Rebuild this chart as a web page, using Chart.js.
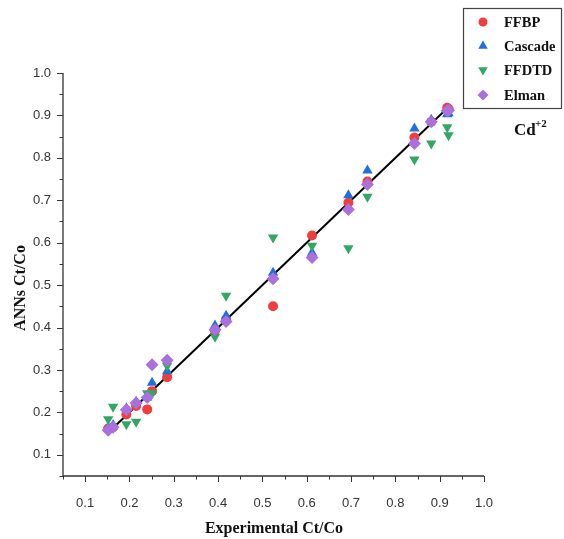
<!DOCTYPE html>
<html>
<head>
<meta charset="utf-8">
<script src="https://cdn.jsdelivr.net/npm/chart.js@4"></script>
<style>
  html, body { margin: 0; padding: 0; background: #fff; }
  #wrap { width: 564px; height: 539px; position: relative; }
</style>
</head>
<body>
<div id="wrap"><canvas id="cd"></canvas></div>
<script>
// experimental Ct/Co (x) shared by the four networks
var expX = [0.152, 0.163, 0.193, 0.215, 0.240, 0.251, 0.285, 0.393, 0.418, 0.524, 0.612, 0.694, 0.737, 0.843, 0.881, 0.917, 0.920];
// predicted Ct/Co
var ffbpY    = [0.162, 0.165, 0.195, 0.215, 0.207, 0.250, 0.283, 0.393, 0.418, 0.450, 0.617, 0.694, 0.744, 0.848, 0.885, 0.918, 0.915];
var cascadeY = [0.163, 0.170, 0.210, 0.225, 0.235, 0.270, 0.297, 0.405, 0.428, 0.529, 0.576, 0.712, 0.770, 0.869, 0.890, 0.903, 0.905];
var ffdtdY   = [0.184, 0.213, 0.172, 0.178, 0.245, 0.245, 0.310, 0.378, 0.475, 0.612, 0.593, 0.587, 0.708, 0.796, 0.834, 0.872, 0.853];
var elmanY   = [0.158, 0.165, 0.206, 0.222, 0.235, 0.312, 0.323, 0.395, 0.414, 0.515, 0.565, 0.678, 0.737, 0.834, 0.885, 0.911, 0.912];
// 1:1 reference line
var fitX = [0.150, 0.920];
var fitY = [0.150, 0.920];
// axis ticks
var xTicks = [0.1, 0.2, 0.3, 0.4, 0.5, 0.6, 0.7, 0.8, 0.9, 1.0];
var yTicks = [0.1, 0.2, 0.3, 0.4, 0.5, 0.6, 0.7, 0.8, 0.9, 1.0];
var seriesNames = ["FFBP", "Cascade", "FFDTD", "Elman"];

function pts(xs, ys){
    var out = [];
    for(let i = 0; i < xs.length; i++){
        out.push({x: xs[i], y: ys[i]});
    }
    return out;
}

var serif = "'Liberation Serif', 'Times New Roman', serif";
var sans = "'Liberation Sans', Arial, sans-serif";

// axis lines, major/minor ticks, titles, legend box and Cd label
var decorPlugin = {
    id: "decor",
    afterDraw: function(chart){
        var ctx = chart.ctx;
        var xs = chart.scales.x, ys = chart.scales.y;
        var area = chart.chartArea;
        ctx.save();
        ctx.strokeStyle = "#333";
        ctx.lineWidth = 1.3;
        ctx.beginPath();
        ctx.moveTo(area.left, area.top);
        ctx.lineTo(area.left, area.bottom);
        ctx.lineTo(area.right, area.bottom);
        ctx.stroke();
        ctx.lineWidth = 1;
        for(let v = 0.05; v <= 1.0001; v += 0.05){
            var major = Math.abs(v * 10 - Math.round(v * 10)) < 0.01;
            var len = major ? 6 : 3.5;
            var px = Math.round(xs.getPixelForValue(v)) + 0.5;
            var py = Math.round(ys.getPixelForValue(v)) + 0.5;
            ctx.beginPath();
            ctx.moveTo(px, area.bottom);
            ctx.lineTo(px, area.bottom + len);
            ctx.moveTo(area.left, py);
            ctx.lineTo(area.left - len, py);
            ctx.stroke();
        }
        // axis titles
        ctx.fillStyle = "#111";
        ctx.font = "bold 16px " + serif;
        ctx.textAlign = "center";
        ctx.textBaseline = "middle";
        ctx.fillText("Experimental Ct/Co", 274, 529);
        ctx.save();
        ctx.translate(21, 288);
        ctx.rotate(-Math.PI / 2);
        ctx.fillText("ANNs Ct/Co", 0, 0);
        ctx.restore();
        // legend
        ctx.strokeStyle = "#444";
        ctx.lineWidth = 1.2;
        ctx.strokeRect(463.5, 8.5, 98, 100);
        ctx.font = "bold 14.5px " + serif;
        ctx.textAlign = "left";
        var rowY = [22, 46, 70, 95];
        var legendR = [4.5, 5.5, 5.5, 5.5];
        for(let i = 0; i < seriesNames.length; i++){
            var ds = chart.data.datasets[i];
            ctx.fillStyle = ds.backgroundColor;
            Chart.helpers.drawPoint(ctx, {
                pointStyle: ds.pointStyle,
                radius: legendR[i],
                rotation: ds.rotation || 0,
                borderWidth: 0
            }, 483, rowY[i]);
            ctx.fillStyle = "#111";
            ctx.fillText(seriesNames[i], 504, rowY[i] + 1);
        }
        // Cd+2 label
        ctx.font = "bold 17px " + serif;
        ctx.fillText("Cd", 514, 131);
        ctx.font = "bold 11px " + serif;
        ctx.fillText("+2", 535, 124);
        ctx.restore();
    }
};

new Chart("cd", {
    type: "scatter",
    data: {
        datasets: [{
            label: "FFBP",
            data: pts(expX, ffbpY),
            pointStyle: "circle",
            pointRadius: 5,
            backgroundColor: "rgb(240,62,62)",
            borderWidth: 0,
            order: 4
        }, {
            label: "Cascade",
            data: pts(expX, cascadeY),
            pointStyle: "triangle",
            pointRadius: 6,
            backgroundColor: "rgb(30,112,222)",
            borderWidth: 0,
            order: 3
        }, {
            label: "FFDTD",
            data: pts(expX, ffdtdY),
            pointStyle: "triangle",
            rotation: 180,
            pointRadius: 6,
            backgroundColor: "rgb(48,168,100)",
            borderWidth: 0,
            order: 2
        }, {
            label: "Elman",
            data: pts(expX, elmanY),
            pointStyle: "rectRot",
            pointRadius: 6.5,
            backgroundColor: "rgb(170,112,222)",
            borderWidth: 0,
            order: 1
        }, {
            type: "line",
            label: "fit",
            data: pts(fitX, fitY),
            borderColor: "#000",
            borderWidth: 2,
            pointRadius: 0,
            showLine: true,
            fill: false,
            order: 10
        }]
    },
    options: {
        responsive: true,
        maintainAspectRatio: false,
        animation: false,
        layout: {padding: {left: 0, top: 73, right: 80, bottom: 0}},
        plugins: {
            legend: {display: false},
            tooltip: {enabled: false}
        },
        scales: {
            x: {
                type: "linear",
                min: 0.05,
                max: 1.0,
                grid: {display: false},
                border: {display: false},
                afterBuildTicks: function(scale){
                    scale.ticks = xTicks.map(v => ({value: v}));
                },
                afterFit: function(scale){ scale.height = 63; },
                ticks: {
                    padding: 12,
                    color: "#333",
                    font: {family: sans, size: 13},
                    callback: function(v){ return Number(v).toFixed(1); }
                }
            },
            y: {
                type: "linear",
                min: 0.05,
                max: 1.0,
                grid: {display: false},
                border: {display: false},
                afterBuildTicks: function(scale){
                    scale.ticks = yTicks.map(v => ({value: v}));
                },
                afterFit: function(scale){ scale.width = 63; },
                ticks: {
                    padding: 4,
                    color: "#333",
                    font: {family: sans, size: 13},
                    callback: function(v){ return Number(v).toFixed(1); }
                }
            }
        }
    },
    plugins: [decorPlugin]
});
</script>
</body>
</html>
